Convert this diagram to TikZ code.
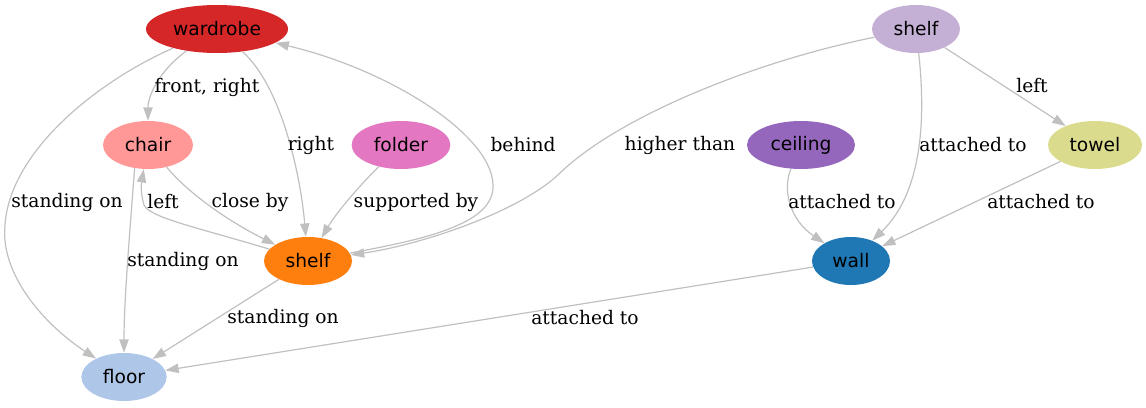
\documentclass[tikz,border=0pt]{standalone}
\usepackage{fontspec}
\setmainfont{DejaVu Serif}
\newfontfamily\nodesans{DejaVu Sans}
\usetikzlibrary{shapes.geometric,arrows.meta}
\definecolor{edgegray}{HTML}{C0C0C0}
\definecolor{cwardrobe}{HTML}{D62728}
\definecolor{cchair}{HTML}{FF9896}
\definecolor{cfolder}{HTML}{E377C2}
\definecolor{cshelfa}{HTML}{FF7F0E}
\definecolor{cfloor}{HTML}{AEC7E8}
\definecolor{cshelfb}{HTML}{C5B0D5}
\definecolor{cceiling}{HTML}{9467BD}
\definecolor{ctowel}{HTML}{DBDB8D}
\definecolor{cwall}{HTML}{1F77B4}
\begin{document}
\begin{tikzpicture}[x=0.75pt,y=-0.75pt,
  gnode/.style={ellipse,draw=none,inner sep=0pt,minimum height=36pt,
    font=\nodesans\fontsize{14}{16}\selectfont,text=black},
  lbl/.style={inner sep=0pt,font=\fontsize{14}{16}\selectfont,text=black},
  conn/.style={draw=edgegray,line width=0.9pt,-{Triangle[length=10pt,width=7pt]}}]
\useasboundingbox (0,0) rectangle (1146,407);
% nodes
\node[gnode,fill=cwardrobe,minimum width=106.5pt] (wardrobe) at (217,29) {wardrobe};
\node[gnode,fill=cchair,minimum width=67.5pt] (chair) at (148,145) {chair};
\node[gnode,fill=cfolder,minimum width=74pt] (folder) at (401,145) {folder};
\node[gnode,fill=cshelfa,minimum width=66pt] (shelfa) at (308,261) {shelf};
\node[gnode,fill=cfloor,minimum width=64pt] (floor) at (124,377) {floor};
\node[gnode,fill=cshelfb,minimum width=66pt] (shelfb) at (916,29) {shelf};
\node[gnode,fill=cceiling,minimum width=81pt] (ceiling) at (801,145) {ceiling};
\node[gnode,fill=ctowel,minimum width=70.5pt] (towel) at (1095,145) {towel};
\node[gnode,fill=cwall,minimum width=58.5pt] (wall) at (851,261) {wall};
% edges
\draw[conn] (wardrobe) .. controls (160,70) and (148,95) .. (chair);
\draw[conn] (wardrobe) .. controls (100,80) and (10,150) .. (5,225)
  .. controls (0,275) and (45,325) .. (floor);
\draw[conn] (wardrobe) .. controls (280,85) and (300,170) .. (shelfa);
\draw[conn] (shelfa) .. controls (420,240) and (495,225) .. (493,185)
  .. controls (492,135) and (390,70) .. (wardrobe);
\draw[conn] (shelfa) .. controls (200,228) and (150,218) .. (144,205)
  .. controls (141,195) and (141,185) .. (chair);
\draw[conn] (chair.-120) .. controls (130,230) and (124,300) .. (floor);
\draw[conn] (chair) .. controls (190,195) and (230,222) .. (shelfa);
\draw[conn] (folder) .. controls (355,190) and (335,215) .. (shelfa);
\draw[conn] (shelfa) -- (floor);
\draw[conn] (shelfb) .. controls (760,60) and (620,115) .. (560,173)
  .. controls (520,212) and (420,245) .. (shelfa);
\draw[conn] (shelfb) -- (towel);
\draw[conn] (shelfb) .. controls (925,110) and (925,190) .. (wall);
\draw[conn] (ceiling) .. controls (782,190) and (790,220) .. (wall);
\draw[conn] (towel) -- (wall);
\draw[conn] (wall) -- (floor);
% labels
\node[lbl] (l1) at (207,87) {front, right};
\node[lbl] (l2) at (67,202) {standing on};
\node[lbl] (l3) at (311,145) {right};
\node[lbl] (l4) at (523,145) {behind};
\node[lbl] (l5) at (163,202) {left};
\node[lbl] (l6) at (183,261) {standing on};
\node[lbl] (l7) at (250,202) {close by};
\node[lbl] (l8) at (416,202) {supported by};
\node[lbl] (l9) at (283,318) {standing on};
\node[lbl] (l10) at (680,145) {higher than};
\node[lbl] (l11) at (1032,86) {left};
\node[lbl] (l12) at (973,145) {attached to};
\node[lbl] (l13) at (842,202) {attached to};
\node[lbl] (l14) at (1041,202) {attached to};
\node[lbl] (l15) at (585,318) {attached to};
\end{tikzpicture}
\end{document}
